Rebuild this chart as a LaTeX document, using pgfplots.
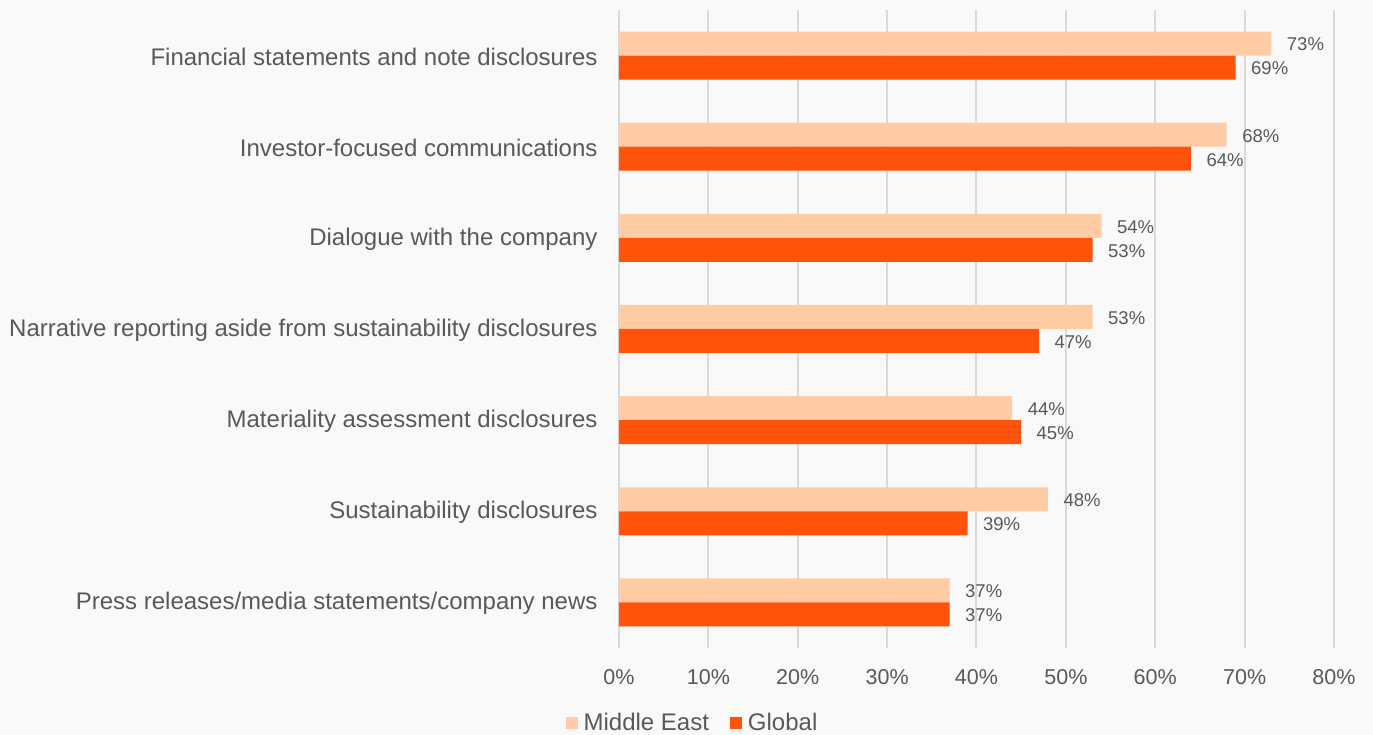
\documentclass[border=0pt]{standalone}
\usepackage{pgfplots}
\pgfplotsset{compat=1.18}
\usepackage{fontspec}
\setmainfont{Liberation Sans}
\definecolor{bg}{HTML}{F9F9F9}
\definecolor{me}{HTML}{FFCCA6}
\definecolor{gl}{HTML}{FF520A}
\definecolor{txt}{HTML}{595959}
\definecolor{grd}{HTML}{D9D9D9}
\begin{document}
\begin{tikzpicture}
\useasboundingbox (-619pt,-87pt) rectangle (754pt,648pt);
\fill[bg] (-619pt,-87pt) rectangle (754pt,648pt);
\begin{axis}[
  at={(0pt,0pt)}, anchor=south west,
  scale only axis, width=715pt, height=638pt,
  xbar, bar width=24pt,
  xmin=0, xmax=80, ymin=-0.5, ymax=6.5,
  xtick={0,10,...,80},
  xticklabel={\pgfmathprintnumber{\tick}\%},
  ytick={0,...,6},
  yticklabels={Press releases/media statements/company news,
               Sustainability disclosures,
               Materiality assessment disclosures,
               Narrative reporting aside from sustainability disclosures,
               Dialogue with the company,
               Investor-focused communications,
               Financial statements and note disclosures},
  xmajorgrids, ymajorgrids=false,
  major grid style={grd, line width=2pt},
  axis line style={draw=none},
  major tick length=0pt,
  tick label style={text=txt},
  xticklabel style={font=\fontsize{21.5}{24}\selectfont, yshift=-18pt},
  yticklabel style={font=\fontsize{24}{27}\selectfont, xshift=-18pt, yshift=-1pt},
  /pgf/number format/assume math mode=true,
  nodes near coords={\pgfmathprintnumber{\pgfplotspointmeta}\%},
  nodes near coords style={font=\fontsize{18.5}{21}\selectfont, text=txt, anchor=west, xshift=12pt, yshift=-1pt},
  legend style={draw=none, fill=none, legend columns=2,
    font=\fontsize{24}{27}\selectfont, text=txt,
    at={(0.1028,-0.1176)}, anchor=center,
    /tikz/every even column/.append style={column sep=19pt}},
  legend image code/.code={\fill[#1] (0pt,-6pt) rectangle (12pt,6pt); \path (16pt,0pt);},
]
\addplot[fill=me, draw=none, bar shift=12pt] coordinates {
  (37,0) (48,1) (44,2) (53,3) (54,4) (68,5) (73,6)};
\addlegendentry{Middle East}
\addplot[fill=gl, draw=none, bar shift=-12pt] coordinates {
  (37,0) (39,1) (45,2) (47,3) (53,4) (64,5) (69,6)};
\addlegendentry{Global}
\end{axis}
\end{tikzpicture}
\end{document}
